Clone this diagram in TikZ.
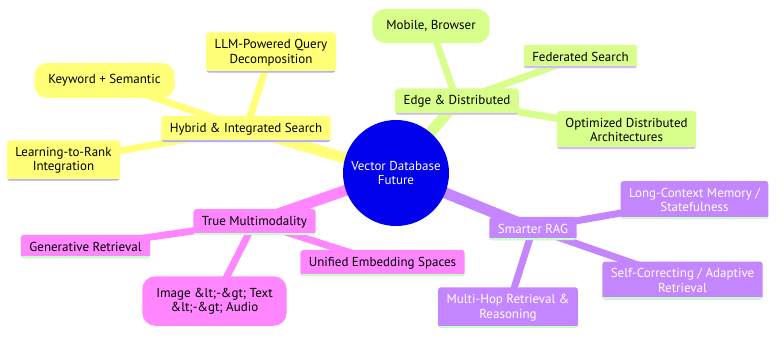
\documentclass[tikz,border=0pt]{standalone}
\usepackage{fontspec}
\setmainfont{PT Sans}
\usepackage{tikz}
\usetikzlibrary{backgrounds}
\definecolor{rootblue}{RGB}{0,0,236}
\definecolor{secyellow}{RGB}{255,255,120}
\definecolor{secgreen}{RGB}{216,255,140}
\definecolor{secpurple}{RGB}{195,134,255}
\definecolor{secpink}{RGB}{255,134,255}
\definecolor{lineblue}{RGB}{178,178,255}
\definecolor{linelilac}{RGB}{210,185,255}
\definecolor{linegreen}{RGB}{200,255,200}
\tikzset{
  box/.style={rectangle,rounded corners=3pt,inner xsep=8.5pt,inner ysep=7pt,align=center,
    path picture={\draw[line width=4pt,#1] (path picture bounding box.south west) -- (path picture bounding box.south east);}},
  pill/.style={rectangle,rounded corners=13pt,inner xsep=14pt,inner ysep=11.5pt,align=center},
  trunk/.style={line width=11pt},
  twig/.style={line width=7pt}
}

\begin{document}
\begin{tikzpicture}[x=1pt,y=-1pt,font=\fontsize{13}{14.5}\selectfont]
  \useasboundingbox (0,0) rectangle (784,341);
  \node[circle,fill=rootblue,text=white,minimum size=106pt,align=center,inner sep=0pt] (root) at (396,173) {Vector Database\\Future};
  \node[box=lineblue,fill=secyellow] (hyb) at (246,129) {Hybrid \& Integrated Search};
  \node[box=lineblue,fill=secyellow] (llm) at (271,52.5) {LLM-Powered Query\\Decomposition};
  \node[pill,fill=secyellow] (kw) at (104.5,80.5) {Keyword + Semantic};
  \node[box=lineblue,fill=secyellow] (ltr) at (63.5,160.5) {Learning-to-Rank\\Integration};
  \node[box=linelilac,fill=secgreen] (edge) at (457,101.5) {Edge \& Distributed};
  \node[pill,fill=secgreen] (mob) at (431,26) {Mobile, Browser};
  \node[box=linelilac,fill=secgreen] (fed) at (580.5,56.5) {Federated Search};
  \node[box=linelilac,fill=secgreen] (opt) at (626.5,130) {Optimized Distributed\\Architectures};
  \node[box=linegreen,fill=secpurple,text=white] (rag) at (533,228.5) {Smarter RAG};
  \node[box=linegreen,fill=secpurple,text=white] (mem) at (694.5,200) {Long-Context Memory /\\Statefulness};
  \node[box=linegreen,fill=secpurple,text=white] (self) at (682.5,280.5) {Self-Correcting / Adaptive\\Retrieval};
  \node[box=linegreen,fill=secpurple,text=white] (hop) at (508,307.5) {Multi-Hop Retrieval \&\\Reasoning};
  \node[box=linegreen,fill=secpink] (multi) at (254.5,222) {True Multimodality};
  \node[box=linegreen,fill=secpink] (gen) at (85.5,246.5) {Generative Retrieval};
  \node[box=linegreen,fill=secpink] (uni) at (382.5,263) {Unified Embedding Spaces};
  \node[pill,fill=secpink] (img) at (214.5,301) {Image \&lt;-\&gt; Text\\\&lt;-\&gt; Audio};
  \begin{scope}[on background layer]
    \draw[trunk,secyellow] (root.center) -- (hyb.center);
    \draw[trunk,secgreen] (root.center) -- (edge.center);
    \draw[trunk,secpurple] (root.center) -- (rag.center);
    \draw[trunk,secpink] (root.center) -- (multi.center);
    \foreach \n in {llm,kw,ltr} \draw[twig,secyellow] (hyb.center) -- (\n.center);
    \foreach \n in {mob,fed,opt} \draw[twig,secgreen] (edge.center) -- (\n.center);
    \foreach \n in {mem,self,hop} \draw[twig,secpurple] (rag.center) -- (\n.center);
    \foreach \n in {gen,uni,img} \draw[twig,secpink] (multi.center) -- (\n.center);
  \end{scope}
\end{tikzpicture}
\end{document}
